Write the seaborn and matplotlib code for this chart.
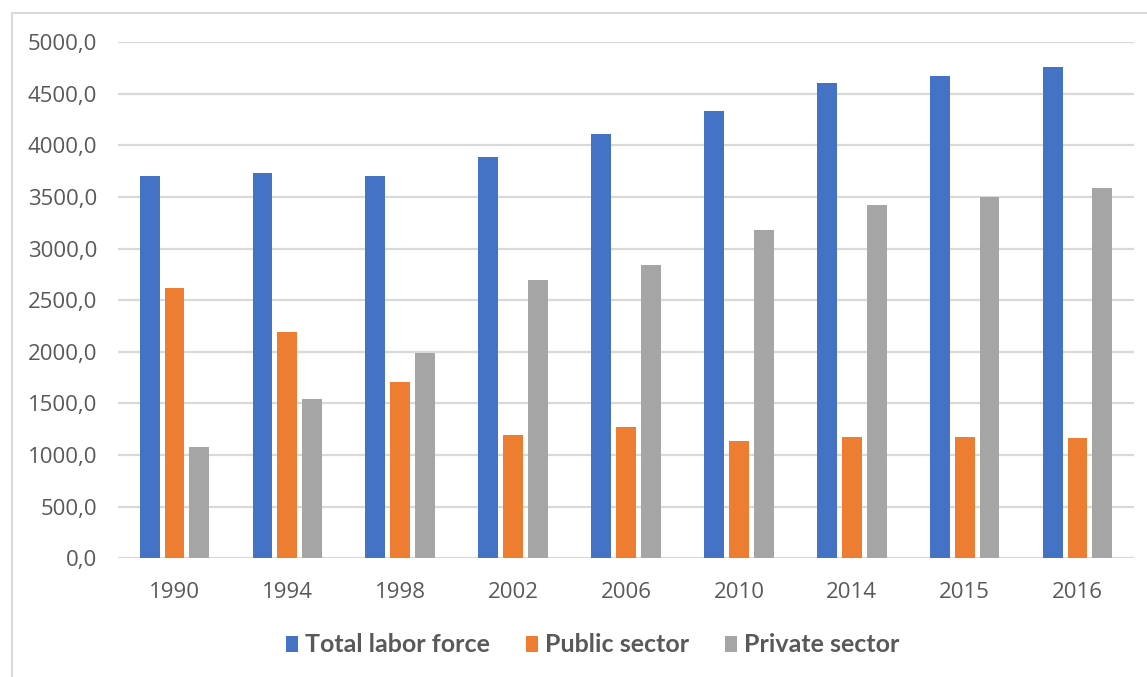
import matplotlib
matplotlib.use("Agg")
import matplotlib.pyplot as plt
from matplotlib.patches import Patch, Rectangle
import pandas as pd
import seaborn as sns

# Labor force by sector (thousands)
years = ["1990", "1994", "1998", "2002", "2006", "2010", "2014", "2015", "2016"]
total_labor_force = [3702, 3728, 3699, 3886, 4109, 4328, 4600, 4670, 4757]
public_sector = [2617, 2188, 1707, 1191, 1268, 1139, 1172, 1172, 1165]
private_sector = [1081, 1543, 1988, 2698, 2837, 3182, 3421, 3496, 3586]

series_names = ["Total labor force", "Public sector", "Private sector"]
colors = ["#4472C4", "#ED7D31", "#A5A5A5"]
yticks = [0, 500, 1000, 1500, 2000, 2500, 3000, 3500, 4000, 4500, 5000]

df = pd.DataFrame({
    "year": years * 3,
    "value": total_labor_force + public_sector + private_sector,
    "series": [s for s in series_names for _ in years],
})

sns.set_theme(style="white")
plt.rcParams["font.family"] = ["Open Sans", "DejaVu Sans"]
text_color = "#595959"
grid_color = "#D9D9D9"

fig = plt.figure(figsize=(11.47, 6.77), dpi=100)
ax = fig.add_axes([118 / 1147, 1 - 558.3 / 677, 1016 / 1147, 516.3 / 677])

sns.barplot(data=df, x="year", y="value", hue="series", order=years,
            hue_order=series_names, palette=colors, saturation=1,
            width=0.66, gap=0.2, edgecolor="none", linewidth=0,
            ax=ax, legend=False, zorder=3)

ax.set_ylim(0, 5000)
ax.set_xlim(-0.5, len(years) - 0.5)
ax.set_yticks(yticks)
ax.set_yticklabels([f"{v:.1f}".replace(".", ",") for v in yticks])
ax.yaxis.grid(True, color=grid_color, linewidth=1.6, zorder=0)
ax.set_axisbelow(True)
for s in ax.spines.values():
    s.set_visible(False)
ax.tick_params(axis="both", length=0, labelsize=16, colors=text_color)
ax.tick_params(axis="y", pad=15)
ax.tick_params(axis="x", pad=17)
ax.set_xlabel("")
ax.set_ylabel("")

handles = [Patch(facecolor=c, edgecolor="none") for c in colors]
fig.legend(handles, series_names, loc="center", bbox_to_anchor=(593 / 1147, 1 - 645 / 677),
           ncol=3, frameon=False, handlelength=0.45, handleheight=0.6,
           handletextpad=0.3, columnspacing=1.45,
           prop={"family": "Lato", "weight": "bold", "size": 18}, labelcolor=text_color)

# chart frame
fig.patches.append(Rectangle((12 / 1147, -0.1), 1.2, 1 - 13 / 677 + 0.1,
                             transform=fig.transFigure, fill=False,
                             edgecolor="#D9D9D9", linewidth=1.5))

fig.savefig("out.png", dpi=100, facecolor="white")
